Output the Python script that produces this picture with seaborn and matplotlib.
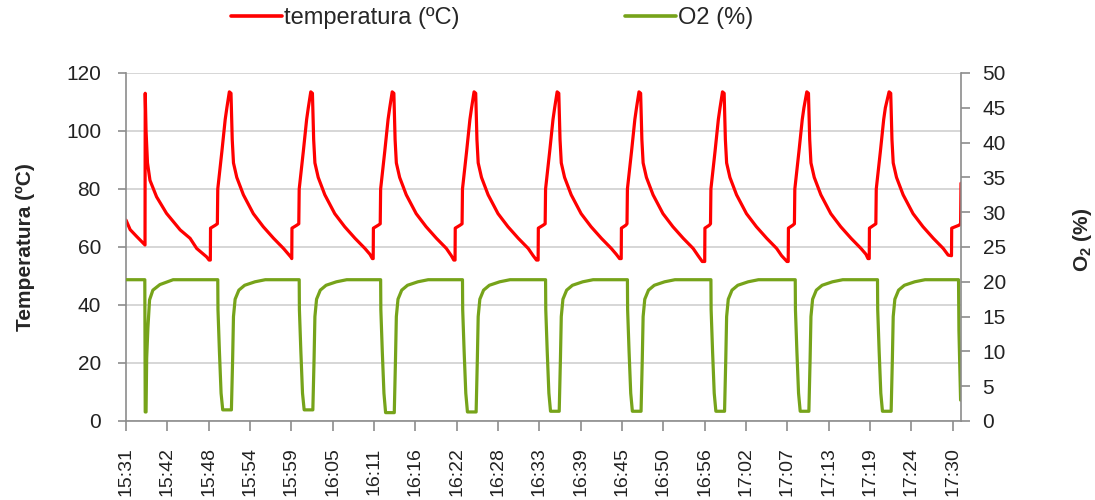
import matplotlib
matplotlib.use("Agg")
import matplotlib.pyplot as plt
from matplotlib.lines import Line2D
import seaborn as sns
import pandas as pd

# ---------------- data (x = sample index, 10 samples per tick label) ----------------
tick_labels = ["15:31", "15:42", "15:48", "15:54", "15:59", "16:05", "16:11", "16:16",
               "16:22", "16:28", "16:33", "16:39", "16:45", "16:50", "16:56", "17:02",
               "17:07", "17:13", "17:19", "17:24", "17:30"]
tick_pos = [0, 10, 20, 30, 40, 50, 60, 70, 80, 90, 100, 110, 120, 130, 140, 150,
            160, 170, 180, 190, 200]

temp_x = [
    0, 1.0, 2.6, 4.2, 4.6, 4.65, 4.85, 5.2, 5.8, 7.4, 9.8, 13.1, 15.5, 17.1, 19.5, 20.1,
    20.4, 20.45, 21.6, 22.1, 22.2, 23.2, 24.0, 24.4, 25.0, 25.4, 25.7, 26.0, 26.8, 28.4, 30.8, 33.2, 35.7, 38.1, 39.3, 39.9,
    40.1, 40.15, 41.3, 41.8, 41.9, 42.9, 43.7, 44.1, 44.7, 45.1, 45.4, 45.7, 46.5, 48.1, 50.5, 52.9, 55.4, 57.8, 59.0, 59.6,
    59.8, 59.85, 61.0, 61.5, 61.6, 62.6, 63.4, 63.8, 64.4, 64.8, 65.1, 65.4, 66.2, 67.8, 70.2, 72.6, 75.1, 77.5, 78.7, 79.3,
    79.6, 79.65, 80.8, 81.3, 81.4, 82.4, 83.2, 83.6, 84.2, 84.6, 84.9, 85.2, 86.0, 87.6, 90.0, 92.4, 94.9, 97.3, 98.5, 99.3,
    99.7, 99.75, 100.9, 101.4, 101.5, 102.5, 103.3, 103.7, 104.3, 104.7, 105.0, 105.3, 106.1, 107.7, 110.1, 112.5, 115.0, 117.4, 118.6, 119.4,
    119.8, 119.85, 120.9, 121.2, 121.3, 122.3, 123.1, 123.5, 124.1, 124.5, 124.8, 125.1, 125.9, 127.5, 129.9, 132.3, 134.8, 137.2, 138.4, 139.4,
    140.0, 140.05, 141.1, 141.4, 141.5, 142.5, 143.3, 143.7, 144.3, 144.7, 145.0, 145.3, 146.1, 147.7, 150.1, 152.5, 155.0, 157.4, 158.6, 159.9,
    160.2, 160.25, 161.3, 161.7, 161.8, 162.8, 163.6, 164.0, 164.7, 165.1, 165.4, 165.7, 166.5, 168.1, 170.5, 172.9, 175.4, 177.8, 179.0, 179.5,
    179.8, 179.85, 180.9, 181.4, 181.5, 182.5, 183.3, 183.7, 184.6, 185.0, 185.3, 185.6, 186.4, 188.0, 190.4, 192.8, 195.3, 197.7, 198.9, 199.7,
    199.75, 201.5, 201.9, 202.0,
]
temp_y = [
    69.3, 66, 63.6, 61.3, 60.7, 113, 100, 89, 83, 77.3, 71.6, 65.9, 63, 59.5, 56.6, 55.5,
    55.5, 66.5, 67.5, 68, 80, 93, 104, 108, 113.5, 113, 97, 89, 84, 78, 71.5, 67, 63, 59.5, 57.5, 56.5,
    56, 66.5, 67.5, 68, 80, 93, 104, 108, 113.5, 113, 97, 89, 84, 78, 71.5, 67, 63, 59.5, 57.5, 56,
    56, 66.5, 67.5, 68, 80, 93, 104, 108, 113.5, 113, 97, 89, 84, 78, 71.5, 67, 63, 59.5, 57, 55.5,
    55.5, 66.5, 67.5, 68, 80, 93, 104, 108, 113.5, 113, 97, 89, 84, 78, 71.5, 67, 63, 59.5, 57, 55.5,
    55.5, 66.5, 67.5, 68, 80, 93, 104, 108, 113.5, 113, 97, 89, 84, 78, 71.5, 67, 63, 59.5, 57.5, 56,
    56, 66.5, 67.5, 68, 80, 93, 104, 108, 113.5, 113, 97, 89, 84, 78, 71.5, 67, 63, 59.5, 57, 55,
    55, 66.5, 67.5, 68, 80, 93, 104, 108, 113.5, 113, 97, 89, 84, 78, 71.5, 67, 63, 59.5, 57, 55,
    55, 66.5, 67.5, 68, 80, 93, 104, 108, 113.5, 113, 97, 89, 84, 78, 71.5, 67, 63, 59.5, 57.5, 56,
    56, 66.5, 67.5, 68, 80, 93, 104, 108, 113.5, 113, 97, 89, 84, 78, 71.5, 67, 63, 59.5, 57.2, 57,
    66.5, 67.5, 68, 82,
]

o2_x = [
    0, 4.55, 4.65, 4.85, 5.0, 5.3, 5.7, 6.5, 8.2, 11.4,
    22.2, 22.25, 22.6, 23.0, 23.4, 25.5, 25.8, 26.0, 26.4, 27.3, 28.7, 31.2, 33.7,
    41.9, 41.95, 42.3, 42.7, 43.1, 45.2, 45.5, 45.7, 46.1, 47.0, 48.4, 50.9, 53.4,
    61.6, 61.65, 62.0, 62.4, 62.8, 64.9, 65.2, 65.4, 65.8, 66.7, 68.1, 70.6, 73.1,
    81.4, 81.45, 81.8, 82.2, 82.6, 84.7, 85.0, 85.2, 85.6, 86.5, 87.9, 90.4, 92.9,
    101.5, 101.55, 101.9, 102.3, 102.7, 104.8, 105.1, 105.3, 105.7, 106.6, 108.0, 110.5, 113.0,
    121.3, 121.35, 121.7, 122.1, 122.5, 124.6, 124.9, 125.1, 125.5, 126.4, 127.8, 130.3, 132.8,
    141.5, 141.55, 141.9, 142.3, 142.7, 144.8, 145.1, 145.3, 145.7, 146.6, 148.0, 150.5, 153.0,
    161.9, 161.95, 162.3, 162.7, 163.1, 165.2, 165.5, 165.7, 166.1, 167.0, 168.4, 170.9, 173.4,
    181.8, 181.85, 182.2, 182.6, 183.0, 185.1, 185.4, 185.6, 186.0, 186.9, 188.3, 190.8, 193.3,
    201.4, 201.5, 201.9,
]
o2_y = [
    20.3, 20.3, 1.3, 1.3, 9, 13.4, 17.4, 18.8, 19.6, 20.3,
    20.3, 16, 10, 4, 1.6, 1.6, 9, 15, 17.5, 18.8, 19.5, 20.0, 20.3,
    20.3, 16, 10, 4, 1.6, 1.6, 9, 15, 17.5, 18.8, 19.5, 20.0, 20.3,
    20.3, 16, 10, 4, 1.2, 1.2, 9, 15, 17.5, 18.8, 19.5, 20.0, 20.3,
    20.3, 16, 10, 4, 1.3, 1.3, 9, 15, 17.5, 18.8, 19.5, 20.0, 20.3,
    20.3, 16, 10, 4, 1.4, 1.4, 9, 15, 17.5, 18.8, 19.5, 20.0, 20.3,
    20.3, 16, 10, 4, 1.4, 1.4, 9, 15, 17.5, 18.8, 19.5, 20.0, 20.3,
    20.3, 16, 10, 4, 1.4, 1.4, 9, 15, 17.5, 18.8, 19.5, 20.0, 20.3,
    20.3, 16, 10, 4, 1.4, 1.4, 9, 15, 17.5, 18.8, 19.5, 20.0, 20.3,
    20.3, 16, 10, 4, 1.4, 1.4, 9, 15, 17.5, 18.8, 19.5, 20.0, 20.3,
    20.3, 13, 3,
]

temp_df = pd.DataFrame({"x": temp_x, "temperatura": temp_y})
o2_df = pd.DataFrame({"x": o2_x, "o2": o2_y})

# ---------------- style ----------------
sns.set_style("white")
plt.rcParams["font.family"] = ["Liberation Sans", "DejaVu Sans"]
plt.rcParams["mathtext.fontset"] = "custom"
plt.rcParams["mathtext.rm"] = "Liberation Sans"
plt.rcParams["mathtext.bf"] = "Liberation Sans:bold"

RED = "#FF0000"
GREEN = "#76A31A"
AXC = "#8C8C8C"
TXT = "#222222"

fig = plt.figure(figsize=(10.95, 5.0), dpi=100)
ax = fig.add_axes([126 / 1095, 1 - 421 / 500, (961 - 126) / 1095, (421 - 73) / 500])
ax2 = ax.twinx()

sns.lineplot(data=o2_df, x="x", y="o2", ax=ax2, color=GREEN, linewidth=2.3,
             sort=False, estimator=None, legend=False)
sns.lineplot(data=temp_df, x="x", y="temperatura", ax=ax, color=RED, linewidth=2.3,
             sort=False, estimator=None, legend=False)

ax.set_xlim(0, 202)
ax.set_ylim(0, 120)
ax2.set_ylim(0, 50)
ax.set_yticks(range(0, 121, 20))
ax2.set_yticks(range(0, 51, 5))
ax.set_xticks(tick_pos)
ax.set_xticklabels(tick_labels, rotation=90)

ax.grid(axis="y", color="#CFCFCF", linewidth=1.2)
ax.grid(axis="x", visible=False)
ax2.grid(False)
ax.set_axisbelow(True)

for a in (ax, ax2):
    a.spines["top"].set_visible(False)
    for s in ("left", "right", "bottom"):
        a.spines[s].set_color(AXC)
        a.spines[s].set_linewidth(1.2)
ax.spines["right"].set_visible(False)
ax2.spines["left"].set_visible(False)
ax2.spines["bottom"].set_visible(False)

ax.tick_params(axis="y", direction="out", length=6, width=1.2, color=AXC,
               labelsize=15, pad=12, left=True, labelcolor=TXT)
ax.tick_params(axis="x", direction="out", length=7, width=1.2, color=AXC,
               labelsize=14, pad=12, bottom=True, labelcolor=TXT)
ax2.tick_params(axis="y", direction="out", length=6.5, width=1.2, color=AXC,
                labelsize=15, pad=9, right=True, labelcolor=TXT)

ax.set_xlabel("")
ax.set_ylabel("Temperatura (ºC)", fontsize=15, fontweight="bold")
ax.yaxis.label.set_va("center")
ax.yaxis.set_label_coords((25 - 126) / 835, 0.5)
ax2.set_ylabel(r"O$_\mathbf{2}$ (%)", fontsize=15, fontweight="bold")
ax2.yaxis.label.set_va("center")
ax2.yaxis.label.set_rotation(90)
ax2.yaxis.set_label_coords((1082 - 126) / 835, 0.52)

handles = [Line2D([], [], color=RED, linewidth=2.6),
           Line2D([], [], color=GREEN, linewidth=2.6)]
fig.legend(handles, ["temperatura (ºC)", "O2 (%)"], loc="center",
           bbox_to_anchor=(492 / 1095, 1 - 18 / 500), ncol=2, frameon=False,
           fontsize=17, handlelength=2.15, handletextpad=0.1, columnspacing=7.0)

fig.savefig("out.png", dpi=100)
